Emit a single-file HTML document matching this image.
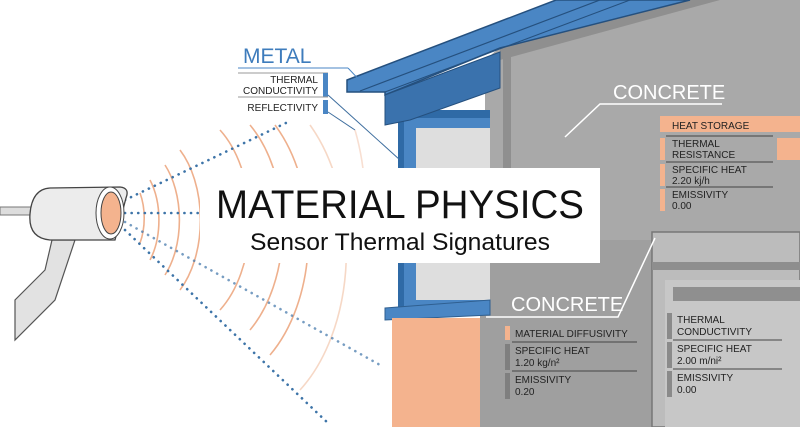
<!DOCTYPE html>
<html><head><meta charset="utf-8"><style>
body{margin:0;width:800px;height:427px;overflow:hidden;background:#fff;font-family:"Liberation Sans",sans-serif}
svg{display:block}
</style></head><body>
<svg width="800" height="427" viewBox="0 0 800 427" xmlns="http://www.w3.org/2000/svg" font-family="Liberation Sans, sans-serif">
<!-- gray walls -->
<polygon points="556,0 800,0 800,427 485,427 485,60" fill="#a9a9a9"/>
<polygon points="690,0 720,0 500,60 500,48" fill="#8f8f8f"/>
<rect x="503" y="55" width="8" height="245" fill="#8f8f8f"/>
<rect x="480" y="240" width="180" height="187" fill="#9f9f9f"/>
<rect x="652" y="232" width="148" height="195" fill="#bcbcbc" stroke="#777" stroke-width="1.5"/>
<rect x="652" y="262" width="148" height="8" fill="#8e8e8e"/>
<rect x="665" y="280" width="135" height="147" fill="#c7c7c7"/>
<rect x="673" y="287" width="127" height="14" fill="#8f8f8f"/>
<!-- window -->
<rect x="398" y="110" width="92" height="200" fill="#2f6aa6"/>
<rect x="404" y="118" width="86" height="188" fill="#4a86c4"/>
<rect x="416" y="128" width="74" height="172" fill="#dedede"/>
<polygon points="385,308 490,300 490,315 385,320" fill="#4a86c4" stroke="#2f5f90"/>
<rect x="392" y="318" width="88" height="109" fill="#f4b38e"/>
<!-- roof -->
<polygon points="347,80 556,0 690,0 500,48 385,95 385,92 347,92" fill="#4a86c4" stroke="#25507e" stroke-width="1.5"/>
<line x1="360" y1="91" x2="600" y2="0" stroke="#25507e" stroke-width="1.2"/>
<line x1="385" y1="92" x2="630" y2="0" stroke="#25507e" stroke-width="1"/>
<polygon points="385,95 500,52 500,88 410,120 385,125" fill="#3a72ad" stroke="#25507e"/>
<!-- METAL labels -->
<text x="243" y="63" font-size="21" fill="#3e7cbc">METAL</text>
<line x1="238" y1="68" x2="348" y2="68" stroke="#4a86c4"/>
<line x1="348" y1="68" x2="365" y2="86" stroke="#4a86c4"/>
<line x1="238" y1="73" x2="328" y2="73" stroke="#999"/>
<text x="318" y="83" font-size="10" text-anchor="end" fill="#222">THERMAL</text>
<text x="318" y="94" font-size="10" text-anchor="end" fill="#222">CONDUCTIVITY</text>
<rect x="323" y="73" width="5" height="24" fill="#4a86c4"/>
<line x1="238" y1="97" x2="328" y2="97" stroke="#999"/>
<text x="318" y="111" font-size="10" text-anchor="end" fill="#222">REFLECTIVITY</text>
<rect x="323" y="100" width="5" height="14" fill="#4a86c4"/>
<line x1="328" y1="95" x2="400" y2="160" stroke="#3e6e9e"/>
<line x1="328" y1="112" x2="355" y2="130" stroke="#3e6e9e"/>
<!-- CONCRETE top -->
<text x="613" y="99" font-size="20" fill="#fff">CONCRETE</text>
<polyline points="722,104 600,104 565,137" fill="none" stroke="#fff" stroke-width="1.5"/>
<rect x="660" y="116" width="140" height="16" fill="#f4b38e"/>
<text x="672" y="129" font-size="10" fill="#222">HEAT STORAGE</text>
<rect x="660" y="138" width="5" height="22" fill="#f4b38e"/>
<rect x="777" y="138" width="23" height="22" fill="#f4b38e"/>
<line x1="666" y1="136" x2="773" y2="136" stroke="#444"/>
<text x="672" y="147" font-size="10" fill="#222">THERMAL</text>
<text x="672" y="158" font-size="10" fill="#222">RESISTANCE</text>
<line x1="666" y1="162" x2="773" y2="162" stroke="#444"/>
<rect x="660" y="164" width="5" height="22" fill="#f4b38e"/>
<text x="672" y="173" font-size="10" fill="#222">SPECIFIC HEAT</text>
<text x="672" y="184" font-size="10" fill="#222">2.20 kj/h</text>
<line x1="666" y1="187" x2="773" y2="187" stroke="#444"/>
<rect x="660" y="189" width="5" height="22" fill="#f4b38e"/>
<text x="672" y="198" font-size="10" fill="#222">EMISSIVITY</text>
<text x="672" y="209" font-size="10" fill="#222">0.00</text>
<!-- CONCRETE lower -->
<text x="511" y="311" font-size="20" fill="#fff">CONCRETE</text>
<polyline points="486,317 618,317 655,238" fill="none" stroke="#fff" stroke-width="1.5"/>
<rect x="505" y="326" width="5" height="14" fill="#f4b38e"/>
<text x="515" y="337" font-size="10" fill="#222">MATERIAL DIFFUSIVITY</text>
<line x1="512" y1="342" x2="637" y2="342" stroke="#444"/>
<rect x="505" y="344" width="5" height="26" fill="#7f7f7f"/>
<text x="515" y="354" font-size="10" fill="#222">SPECIFIC HEAT</text>
<text x="515" y="366" font-size="10" fill="#222">1.20 kg/n²</text>
<line x1="512" y1="371" x2="637" y2="371" stroke="#444"/>
<rect x="505" y="373" width="5" height="26" fill="#7f7f7f"/>
<text x="515" y="383" font-size="10" fill="#222">EMISSIVITY</text>
<text x="515" y="395" font-size="10" fill="#222">0.20</text>
<rect x="667" y="313" width="5" height="26" fill="#8a8a8a"/>
<text x="677" y="323" font-size="10" fill="#222">THERMAL</text>
<text x="677" y="335" font-size="10" fill="#222">CONDUCTIVITY</text>
<line x1="673" y1="340" x2="782" y2="340" stroke="#444"/>
<rect x="667" y="342" width="5" height="26" fill="#8a8a8a"/>
<text x="677" y="352" font-size="10" fill="#222">SPECIFIC HEAT</text>
<text x="677" y="364" font-size="10" fill="#222">2.00 m/ni²</text>
<line x1="673" y1="369" x2="782" y2="369" stroke="#444"/>
<rect x="667" y="371" width="5" height="26" fill="#8a8a8a"/>
<text x="677" y="381" font-size="10" fill="#222">EMISSIVITY</text>
<text x="677" y="393" font-size="10" fill="#222">0.00</text>
<!-- waves -->
<g fill="none" stroke="#eca37a" stroke-width="1.6" opacity="0.85">
<path d="M140,193 A25,45 0 0 1 140,243"/>
<path d="M150,180 A35,60 0 0 1 150,260"/>
<path d="M165,165 A45,75 0 0 1 165,275"/>
<path d="M180,150 A55,90 0 0 1 180,290"/>
<path d="M220,130 A70,110 0 0 1 220,310"/>
<path d="M250,125 A85,130 0 0 1 250,330"/>
<path d="M275,125 A100,150 0 0 1 270,355"/>
<path d="M310,125 A110,170 0 0 1 300,390" opacity="0.5"/>
<path d="M355,130 A100,170 0 0 1 360,260" opacity="0.4"/>
</g>
<g fill="none" stroke="#3d74a8" stroke-width="2.6" stroke-dasharray="0.1 6.5" stroke-linecap="round">
<line x1="125" y1="200" x2="288" y2="122"/>
<line x1="125" y1="213" x2="200" y2="213"/>
<line x1="125" y1="222" x2="380" y2="365" opacity="0.7"/>
<line x1="125" y1="230" x2="330" y2="425"/>
</g>
<!-- camera -->
<rect x="0" y="207" width="32" height="8" fill="#ddd" stroke="#777"/>
<polygon points="52,240 75,240 55,300 15,340 15,300 45,270" fill="#e2e2e2" stroke="#555" stroke-width="1.2"/>
<path d="M50,188 L120,187 Q130,188 126,198 L115,240 L50,240 Q28,238 30,214 Q32,189 50,188 Z" fill="#ececec" stroke="#444" stroke-width="1.3"/>
<ellipse cx="110" cy="213" rx="14" ry="26" fill="#fff" stroke="#444"/>
<ellipse cx="111" cy="213" rx="10" ry="21" fill="#f4b38e" stroke="#444"/>
<!-- title -->
<rect x="200" y="168" width="400" height="95" fill="#fff"/>
<text x="400" y="218" font-size="40" text-anchor="middle" fill="#111" textLength="368" lengthAdjust="spacingAndGlyphs">MATERIAL PHYSICS</text>
<text x="400" y="250" font-size="24" text-anchor="middle" fill="#111" textLength="300" lengthAdjust="spacingAndGlyphs">Sensor Thermal Signatures</text>
</svg>
</body></html>
